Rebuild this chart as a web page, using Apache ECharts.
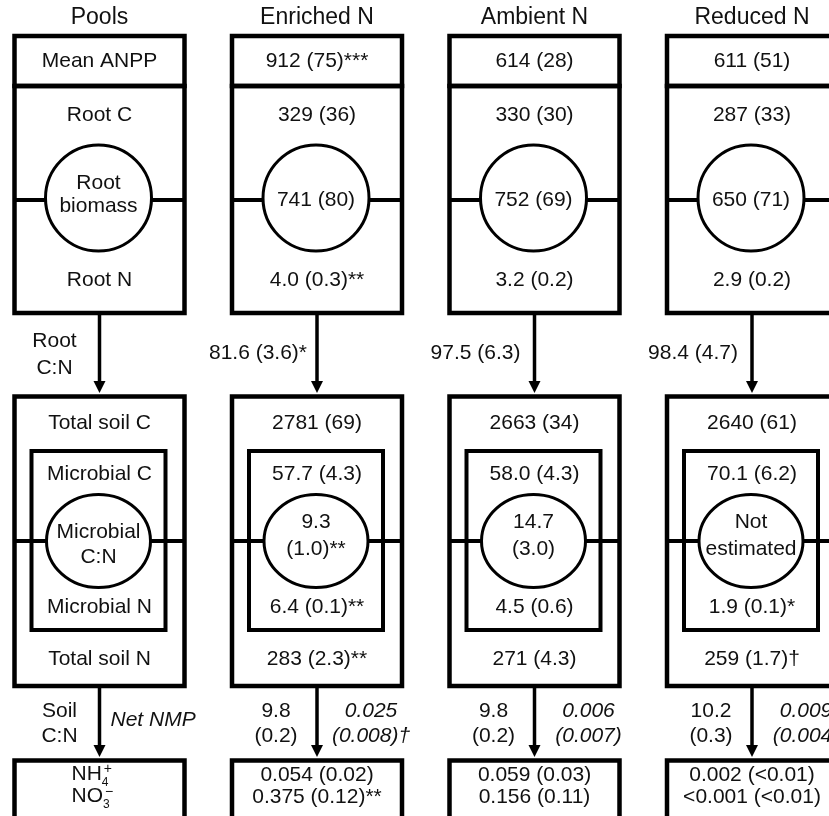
<!DOCTYPE html>
<html><head><meta charset="utf-8">
<script src="https://cdn.jsdelivr.net/npm/echarts@6/dist/echarts.min.js"></script>
<style>html,body{margin:0;padding:0;background:#fff}#c{width:829px;height:816px}</style>
</head><body><div id="c"></div>
<script>
// ---- data (text of each pool, per column) ----
const columns     = ['Pools', 'Enriched N', 'Ambient N', 'Reduced N'];
const meanANPP    = ['Mean ANPP', '912 (75)***', '614 (28)', '611 (51)'];
const rootC       = ['Root C', '329 (36)', '330 (30)', '287 (33)'];
const rootBiomass = ['Root\nbiomass', '741 (80)', '752 (69)', '650 (71)'];
const rootN       = ['Root N', '4.0 (0.3)**', '3.2 (0.2)', '2.9 (0.2)'];
const rootCN      = ['Root\nC:N', '81.6 (3.6)*', '97.5 (6.3)', '98.4 (4.7)'];
const totalSoilC  = ['Total soil C', '2781 (69)', '2663 (34)', '2640 (61)'];
const microbialC  = ['Microbial C', '57.7 (4.3)', '58.0 (4.3)', '70.1 (6.2)'];
const microbialCN = ['Microbial\nC:N', '9.3\n(1.0)**', '14.7\n(3.0)', 'Not\nestimated'];
const microbialN  = ['Microbial N', '6.4 (0.1)**', '4.5 (0.6)', '1.9 (0.1)*'];
const totalSoilN  = ['Total soil N', '283 (2.3)**', '271 (4.3)', '259 (1.7)†'];
const soilCN      = ['Soil\nC:N', '9.8\n(0.2)', '9.8\n(0.2)', '10.2\n(0.3)'];
const netNMP      = ['Net NMP', '0.025\n(0.008)†', '0.006\n(0.007)', '0.009\n(0.004)'];
// pool label given as [base, subscript, superscript]
const nh4         = [['NH', '4', '+'], '0.054 (0.02)', '0.059 (0.03)', '0.002 (<0.01)'];
const no3         = [['NO', '3', '−'], '0.375 (0.12)**', '0.156 (0.11)', '<0.001 (<0.01)'];

// ---- layout (styling, not data) ----
const FONT = '"Liberation Sans", Arial, Helvetica, sans-serif';
const BODY = 21, HEAD = 23;
const HW = 85;
const measureCtx = document.createElement('canvas').getContext('2d');
function textWidth(t, size) { measureCtx.font = size + 'px ' + FONT; return measureCtx.measureText(t).width; }

function renderItem(params, api) {
  const i = api.value(0);
  const cx = api.coord([i, 0])[0];
  const Y = v => api.coord([i, v])[1];
  const kids = [];
  const stroke = '#000';
  const rect = (x0, y0, x1, y1, lw) => kids.push({type: 'rect',
    shape: {x: x0, y: Y(y0), width: x1 - x0, height: Y(y1) - Y(y0)},
    style: {fill: 'transparent', stroke, lineWidth: lw}});
  const hline = (x0, x1, y, lw) => kids.push({type: 'line',
    shape: {x1: x0, y1: Y(y), x2: x1, y2: Y(y)}, style: {stroke, lineWidth: lw}});
  const arrow = (y0, tip) => {
    kids.push({type: 'line', shape: {x1: cx, y1: Y(y0), x2: cx, y2: Y(tip - 10)},
      style: {stroke, lineWidth: 3.5}});
    kids.push({type: 'polygon', shape: {points: [[cx - 6, Y(tip - 12)], [cx + 6, Y(tip - 12)], [cx, Y(tip)]]},
      style: {fill: stroke}});
  };
  const text = (t, x, y, opt) => {
    opt = opt || {};
    kids.push({type: 'text', z2: 10, style: {
      text: t, x: x, y: Y(y), fill: '#111', align: opt.align || 'center', verticalAlign: 'middle',
      font: (opt.italic ? 'italic ' : '') + (opt.size || BODY) + 'px ' + FONT
    }});
  };
  const lines = (s, x, ys, opt) => s.split('\n').forEach((t, k) => text(t, x, ys[k], opt));
  const chem = (parts, x, y, supDy) => {
    const w = textWidth(parts[0], BODY);
    text(parts[0], x, y, {align: 'left'});
    text(parts[1], x + w, y + 8, {align: 'left', size: 12});
    text(parts[2], x + w + 2, y + supDy, {align: 'left', size: 14});
  };

  // boxes
  rect(cx - HW, 36, cx + HW, 86, 4.5);
  rect(cx - HW, 86, cx + HW, 313, 4.5);
  hline(cx - HW, cx + HW, 200, 4);
  kids.push({type: 'circle', shape: {cx: cx - 1, cy: Y(198), r: 53},
    style: {fill: '#fff', stroke, lineWidth: 3}});
  arrow(313, 393);
  rect(cx - HW, 396.5, cx + HW, 686, 4.5);
  rect(cx - 68, 451, cx + 66, 630, 4);
  hline(cx - HW, cx + HW + 1, 541, 4);
  kids.push({type: 'ellipse', shape: {cx: cx - 1, cy: Y(541), rx: 52, ry: 46.5},
    style: {fill: '#fff', stroke, lineWidth: 3}});
  arrow(686, 757);
  rect(cx - HW, 760.5, cx + HW, 840, 4.5);

  // texts
  const first = i === 0;
  text(columns[i], cx, 18, {size: HEAD});
  text(meanANPP[i], cx, 61.5);
  text(rootC[i], cx, 115.5);
  if (first) lines(rootBiomass[i], cx - 1, [183, 206]);
  else text(rootBiomass[i], cx - 1, 200);
  text(rootN[i], cx, 280);
  if (first) lines(rootCN[i], cx - 45, [341.5, 368.5]);
  else text(rootCN[i], cx - 59, 353.5);
  text(totalSoilC[i], cx, 423.5);
  text(microbialC[i], cx, 474.5);
  if (first) lines(microbialCN[i], cx - 1, [532, 557]);
  else lines(microbialCN[i], cx - 1, [522, 549]);
  text(microbialN[i], cx, 607.5);
  text(totalSoilN[i], cx, 659.5);
  if (first) {
    lines(soilCN[i], cx - 40, [711.5, 736.5]);
    text(netNMP[i], cx + 11, 720, {italic: true, align: 'left'});
  } else {
    lines(soilCN[i], cx - 41, [711.5, 736.5]);
    lines(netNMP[i], cx + 54, [711.5, 736.5], {italic: true});
  }
  if (first) {
    chem(nh4[i], cx - 28, 774.5, -5);
    chem(no3[i], cx - 28, 796.5, -4);
  } else {
    text(nh4[i], cx, 775.5);
    text(no3[i], cx, 797.5);
  }
  return {type: 'group', children: kids};
}

const chart = echarts.init(document.getElementById('c'), null, {renderer: 'canvas'});
chart.setOption({
  backgroundColor: '#fff',
  animation: false,
  grid: {left: 0, right: 0, top: 0, bottom: 0},
  xAxis: {type: 'value', min: (0 - 99.5) / 217.5, max: (829 - 99.5) / 217.5, show: false},
  yAxis: {type: 'value', min: 0, max: 816, inverse: true, show: false},
  series: [{
    type: 'custom',
    renderItem: renderItem,
    clip: false,
    data: columns.map((c, i) => [i]),
    encode: {x: 0}
  }]
});
</script></body></html>
